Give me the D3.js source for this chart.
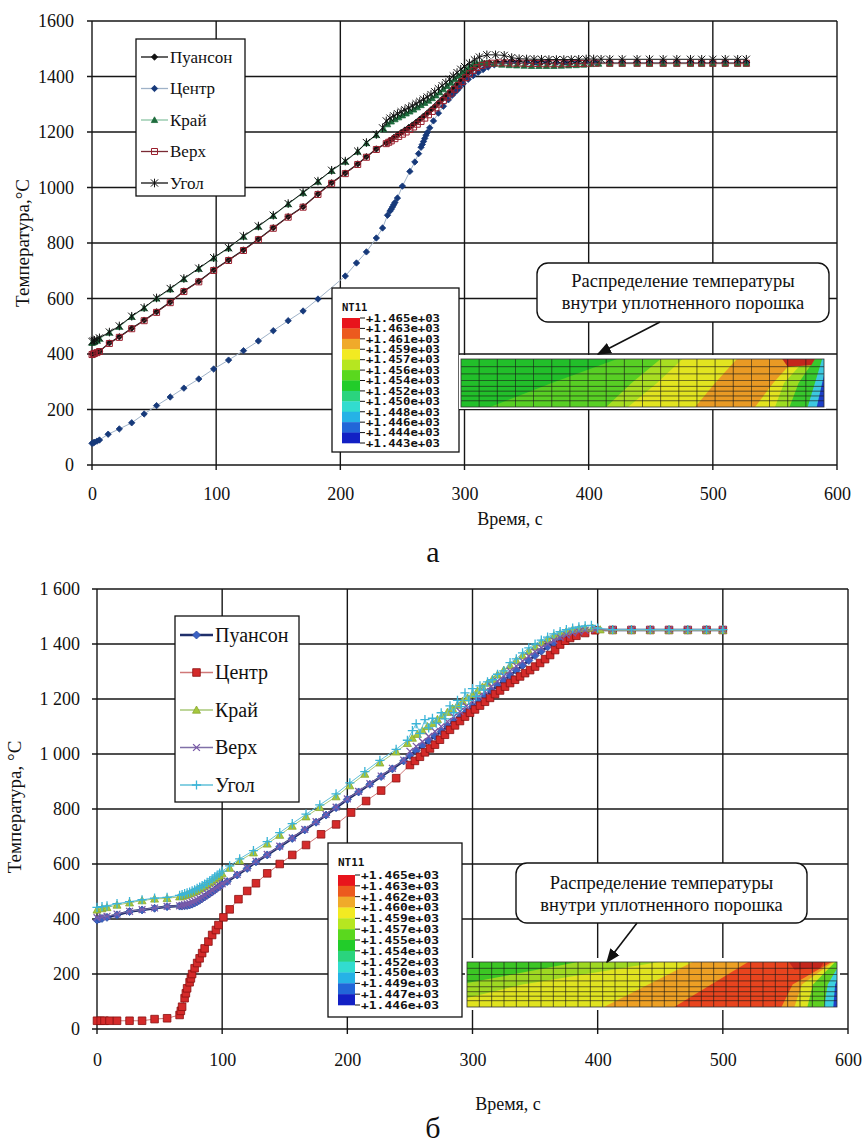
<!DOCTYPE html>
<html>
<head>
<meta charset="utf-8">
<script src="https://cdn.jsdelivr.net/npm/d3@7"></script>
<style>
  body { margin: 0; background: #fff; }
  svg { display: block; }
  text { font-family: "Liberation Serif", "Times New Roman", Times, "DejaVu Serif", serif; fill: #111; }
  text.mono { font-family: "DejaVu Sans Mono", "Liberation Mono", monospace; font-weight: bold; }
</style>
</head>
<body>
<svg id="chart" width="866" height="1146"></svg>
<script>
// ---- data ----
const seriesNames = ["Пуансон", "Центр", "Край", "Верх", "Угол"];
const timeTicks = [0, 100, 200, 300, 400, 500, 600];
const tempTicks = [0, 200, 400, 600, 800, 1000, 1200, 1400, 1600];

// chart "а"  [time, temperature]
const aPunch = [[0,400],[1,401],[2,403],[4,406],[6,410],[14,440],[22,462],[32,493],[42,522],[52,552],[63,587],[74,627],[86,662],[98,703],[110,739],[122,775],[134,814],[146,855],[158,895],[170,931],[182,977],[193,1017],[204,1052],[214,1085],[221,1111],[229,1139],[237,1160],[240,1170],[243,1180],[246,1189],[249,1198],[252,1207],[255,1216],[258,1225],[261,1235],[264,1246],[267,1257],[270,1268],[273,1280],[276,1292],[279,1305],[282,1318],[285,1331],[288,1344],[291,1358],[294,1372],[297,1386],[300,1400],[303,1413],[306,1425],[309,1435],[312,1442],[316,1447],[320,1450],[326,1452],[332,1453],[338,1453],[344,1452],[350,1451],[356,1451],[362,1451],[368,1450],[374,1450],[380,1450],[386,1450],[392,1450],[398,1451],[406,1451],[417,1450],[427,1450],[439,1450],[449,1450],[460,1450],[471,1450],[482,1450],[491,1450],[500,1450],[510,1450],[520,1450],[527,1450]];
const aCenter = [[0,78],[1,80],[2,82],[4,86],[6,90],[13,111],[22,130],[32,152],[42,184],[52,214],[63,245],[74,277],[86,310],[98,346],[110,378],[122,412],[134,447],[146,484],[158,520],[170,555],[182,598],[204,681],[213,728],[221,768],[229,818],[234,854],[238,900],[240,915],[241,922],[242,930],[243,938],[244,946],[246,962],[250,1005],[256,1058],[260,1092],[263,1122],[265,1145],[266,1155],[267,1166],[268,1177],[269,1188],[270,1198],[272,1215],[275,1240],[279,1268],[283,1293],[287,1316],[290,1332],[292,1342],[294,1350],[296,1360],[299,1374],[303,1390],[307,1403],[311,1415],[315,1425],[319,1434],[324,1442],[330,1447],[336,1449],[342,1450],[350,1450],[358,1450],[366,1450],[374,1450],[382,1450],[390,1450],[398,1450],[406,1450],[417,1450],[427,1450],[439,1450],[449,1450],[460,1450],[471,1450],[482,1450],[491,1450],[500,1450],[510,1450],[520,1450],[527,1450]];
const aEdge = [[0,440],[1,442],[2,444],[4,448],[6,455],[14,477],[22,498],[32,534],[42,565],[52,600],[63,633],[74,670],[86,707],[98,745],[110,781],[122,823],[134,859],[146,898],[158,940],[170,980],[182,1021],[193,1060],[204,1093],[214,1129],[221,1160],[229,1189],[235,1210],[238,1228],[241,1238],[244,1246],[247,1253],[250,1260],[253,1267],[256,1274],[259,1281],[262,1289],[265,1297],[268,1305],[271,1313],[274,1322],[277,1332],[280,1343],[283,1354],[286,1366],[289,1378],[292,1390],[295,1402],[298,1414],[301,1425],[304,1435],[307,1443],[310,1448],[314,1450],[318,1449],[324,1446],[330,1443],[336,1441],[342,1440],[348,1439],[354,1438],[360,1438],[366,1438],[372,1438],[378,1439],[384,1440],[390,1441],[396,1443],[402,1445],[408,1446],[417,1446],[427,1446],[439,1446],[449,1446],[460,1446],[471,1446],[482,1446],[491,1446],[500,1446],[510,1446],[520,1446],[527,1446]];
const aTop = [[0,398],[1,400],[2,402],[4,405],[6,409],[14,438],[22,460],[32,491],[42,520],[52,550],[63,585],[74,625],[86,660],[98,701],[110,737],[122,773],[134,812],[146,853],[158,893],[170,929],[182,975],[193,1015],[204,1050],[214,1083],[221,1109],[229,1137],[237,1158],[239,1163],[241,1168],[244,1176],[247,1184],[250,1192],[253,1200],[256,1209],[259,1218],[262,1228],[265,1238],[268,1250],[271,1262],[274,1274],[277,1287],[280,1300],[283,1313],[286,1326],[289,1340],[292,1354],[295,1368],[298,1382],[301,1396],[304,1410],[307,1422],[310,1432],[314,1440],[318,1445],[322,1448],[328,1449],[334,1449],[340,1448],[346,1448],[352,1447],[358,1447],[364,1446],[370,1446],[376,1446],[382,1446],[388,1447],[394,1447],[400,1448],[406,1448],[417,1448],[427,1448],[439,1448],[449,1448],[460,1448],[471,1448],[482,1448],[491,1448],[500,1448],[510,1448],[520,1448],[527,1448]];
const aCorner = [[0,445],[1,447],[2,449],[4,452],[6,458],[14,479],[22,501],[32,536],[42,567],[52,602],[63,636],[74,672],[86,709],[98,747],[110,783],[122,825],[134,861],[146,900],[158,942],[170,982],[182,1023],[193,1062],[204,1095],[214,1131],[221,1162],[229,1191],[234,1215],[237,1240],[240,1250],[243,1258],[246,1266],[249,1273],[252,1280],[255,1287],[258,1294],[261,1302],[264,1310],[267,1318],[270,1326],[273,1335],[276,1345],[279,1356],[282,1367],[285,1378],[288,1390],[291,1402],[294,1414],[297,1426],[300,1436],[304,1448],[308,1460],[312,1470],[318,1478],[325,1478],[332,1476],[338,1468],[344,1464],[350,1463],[356,1462],[362,1462],[368,1461],[374,1461],[380,1461],[386,1461],[392,1462],[398,1463],[404,1463],[410,1462],[417,1462],[427,1462],[439,1462],[449,1462],[460,1462],[471,1462],[482,1462],[491,1462],[500,1462],[510,1462],[520,1462],[527,1462]];

// chart "б"
const bPunch = [[0,396],[2,400],[4,402],[8,406],[16,415],[26,427],[36,433],[46,439],[56,445],[66,447],[68,447],[70,448],[72,449],[74,451],[76,454],[78,458],[80,463],[82,468],[84,474],[86,480],[88,486],[90,492],[92,498],[94,505],[96,512],[98,519],[100,526],[104,536],[112,560],[120,584],[127,608],[136,633],[146,663],[156,693],[166,724],[175,752],[183,778],[191,805],[200,835],[209,862],[218,890],[227,918],[236,946],[245,975],[250,995],[255,1012],[260,1030],[265,1048],[270,1065],[275,1082],[280,1100],[285,1118],[290,1135],[295,1154],[300,1172],[305,1191],[310,1210],[315,1229],[320,1248],[325,1266],[330,1285],[335,1304],[340,1322],[345,1340],[350,1358],[355,1374],[360,1390],[365,1403],[370,1415],[375,1425],[380,1434],[385,1441],[390,1447],[398,1451],[412,1451],[427,1451],[442,1451],[457,1451],[472,1451],[487,1451],[500,1451]];
const bCenter = [[0,30],[3,30],[6,30],[10,30],[16,30],[26,30],[36,30],[46,36],[56,39],[66,51],[67,66],[68,81],[70,112],[71,130],[72,148],[74,170],[75,184],[76,200],[78,221],[80,240],[82,257],[84,276],[86,293],[89,318],[92,342],[95,360],[97,378],[101,406],[106,435],[113,472],[120,502],[127,530],[136,566],[146,600],[156,633],[167,669],[179,708],[191,744],[203,787],[215,829],[227,867],[239,912],[250,960],[254,975],[258,990],[262,1006],[266,1020],[270,1034],[274,1052],[278,1070],[282,1088],[286,1104],[290,1120],[294,1136],[298,1150],[302,1162],[306,1176],[310,1190],[314,1204],[318,1218],[322,1231],[326,1245],[330,1258],[334,1270],[338,1282],[342,1294],[346,1305],[350,1318],[354,1331],[358,1345],[362,1360],[366,1378],[370,1398],[374,1412],[378,1422],[383,1430],[390,1440],[398,1450],[412,1451],[427,1451],[442,1451],[457,1451],[472,1451],[487,1451],[500,1451]];
const bEdge = [[0,433],[4,438],[8,442],[16,451],[26,459],[36,467],[46,473],[56,475],[66,481],[68,483],[70,486],[72,489],[74,492],[76,496],[78,500],[80,505],[82,510],[84,515],[86,520],[88,526],[90,532],[92,538],[94,545],[96,551],[98,558],[100,565],[106,585],[114,612],[125,641],[136,673],[146,705],[156,738],[167,772],[178,806],[191,845],[202,885],[214,927],[226,968],[239,1008],[248,1039],[252,1058],[256,1072],[260,1085],[264,1100],[268,1112],[272,1126],[276,1140],[280,1152],[284,1166],[288,1178],[292,1192],[296,1204],[300,1216],[304,1230],[308,1244],[312,1258],[316,1272],[320,1288],[325,1305],[330,1322],[335,1340],[340,1358],[345,1374],[350,1390],[355,1405],[360,1418],[365,1430],[370,1438],[375,1446],[380,1452],[385,1456],[390,1458],[396,1458],[402,1452],[412,1450],[427,1450],[442,1450],[457,1450],[472,1450],[487,1450],[500,1450]];
const bTop = [[0,405],[4,408],[8,410],[16,418],[26,428],[36,434],[46,440],[56,446],[66,448],[68,450],[70,452],[72,455],[74,458],[76,462],[78,466],[80,470],[82,475],[84,480],[86,486],[88,492],[90,498],[92,504],[94,510],[96,516],[98,522],[100,528],[104,538],[112,562],[120,586],[127,610],[136,635],[146,665],[156,695],[166,726],[175,754],[183,780],[191,807],[200,837],[209,864],[218,892],[227,920],[236,948],[245,978],[250,1010],[255,1028],[260,1045],[265,1064],[270,1082],[275,1100],[280,1118],[285,1136],[290,1155],[295,1174],[300,1192],[305,1210],[310,1228],[315,1246],[320,1265],[325,1284],[330,1302],[335,1320],[340,1338],[345,1356],[350,1372],[355,1387],[360,1400],[365,1413],[370,1424],[375,1433],[380,1440],[385,1446],[390,1450],[398,1452],[412,1452],[427,1452],[442,1452],[457,1452],[472,1452],[487,1452],[500,1452]];
const bCorner = [[0,442],[4,445],[8,448],[16,456],[26,463],[36,470],[46,476],[56,479],[66,486],[68,489],[70,492],[72,495],[74,498],[76,502],[78,506],[80,511],[82,516],[84,521],[86,527],[88,533],[90,539],[92,546],[94,553],[96,560],[98,567],[100,574],[106,593],[114,619],[125,649],[136,681],[146,714],[156,747],[167,781],[178,815],[191,855],[202,895],[214,936],[226,977],[239,1017],[248,1050],[252,1085],[255,1110],[258,1075],[262,1125],[265,1095],[268,1130],[271,1112],[275,1150],[278,1128],[282,1175],[285,1150],[288,1195],[291,1172],[294,1222],[297,1195],[300,1238],[303,1210],[306,1248],[309,1232],[312,1262],[316,1270],[320,1290],[325,1302],[330,1332],[335,1346],[340,1368],[345,1386],[350,1400],[355,1414],[360,1425],[365,1437],[370,1445],[375,1452],[380,1458],[385,1462],[390,1466],[395,1468],[400,1458],[412,1452],[427,1452],[442,1452],[457,1452],[472,1452],[487,1452],[500,1452]];

// NT11 contour legend values and colours
const ntLabelsA = ["+1.465e+03","+1.463e+03","+1.461e+03","+1.459e+03","+1.457e+03","+1.456e+03","+1.454e+03","+1.452e+03","+1.450e+03","+1.448e+03","+1.446e+03","+1.444e+03","+1.443e+03"];
const ntLabelsB = ["+1.465e+03","+1.463e+03","+1.462e+03","+1.460e+03","+1.459e+03","+1.457e+03","+1.455e+03","+1.454e+03","+1.452e+03","+1.450e+03","+1.449e+03","+1.447e+03","+1.446e+03"];
const ntColors = ["#e8141c","#ec5a1e","#f0aa2a","#f2ea22","#b6e620","#5ad81e","#22cc2a","#2ad47e","#32dccf","#26b2e6","#2266d8","#1220c4"];

// contour bands: left edge of each band as [top, middle, bottom] fractions of the strip width
const bandsA = [
  ["#22bf2a", [-1, -1, -1]], ["#58cf24", [0.43, 0.25, 0.08]], ["#a8de22", [0.55, 0.47, 0.40]],
  ["#e2e420", [0.61, 0.54, 0.46]], ["#e99a24", [0.76, 0.70, 0.645]], ["#e2e420", [0.92, 0.86, 0.81]],
  ["#9cdc22", [0.95, 0.89, 0.865]], ["#38c82c", [0.975, 0.93, 0.905]], ["#3cc8e0", [0.995, 0.975, 0.955]],
  ["#1d3fc8", [1.01, 0.995, 0.98]]
];
const hotA = [[0.885,0],[0.975,0],[0.965,0.13],[0.90,0.16]];
const bandsB = [
  ["#3cc624", [-1, -1, -1]], ["#9ed822", [0.30, -0.02, -0.30]], ["#e0e320", [0.52, 0.15, -0.10]],
  ["#eda024", [0.61, 0.49, 0.37]], ["#e8441e", [0.76, 0.66, 0.56]], ["#eda024", [0.985, 0.88, 0.85]],
  ["#e0e320", [0.99, 0.905, 0.885]], ["#5fd022", [0.995, 0.935, 0.92]], ["#3cd0e0", [1.01, 0.975, 0.965]],
  ["#2040c8", [1.02, 0.995, 0.99]]
];
const hotB = [[0.87,0],[0.965,0],[0.955,0.13],[0.885,0.17]];
const meshRowsA = [0.16, 0.31, 0.45, 0.57, 0.67, 0.77, 0.87];
const meshRowsB = [0.14, 0.28, 0.42, 0.55, 0.66, 0.76, 0.86];

const calloutLines = ["Распределение температуры", "внутри уплотненного порошка"];

// ---- drawing ----
const svg = d3.select("#chart");
svg.append("defs").append("marker")
  .attr("id", "arrow").attr("viewBox", "0 0 10 10").attr("refX", 9).attr("refY", 5)
  .attr("markerWidth", 9).attr("markerHeight", 9).attr("orient", "auto-start-reverse")
  .append("path").attr("d", "M0,1 L10,5 L0,9 Z").attr("fill", "#111");

function markerPath(type, r) {
  switch (type) {
    case "diamond": return `M0,${-r}L${r},0L0,${r}L${-r},0Z`;
    case "square": return `M${-r},${-r}H${r}V${r}H${-r}Z`;
    case "triangle": return `M0,${-r}L${r},${r * 0.8}L${-r},${r * 0.8}Z`;
    case "cross": return `M${-r},${-r}L${r},${r}M${-r},${r}L${r},${-r}`;
    case "plus": return `M${-r},0H${r}M0,${-r}V${r}`;
    case "star": return `M${-r},${-r}L${r},${r}M${-r},${r}L${r},${-r}M0,${-r * 1.2}V${r * 1.2}`;
  }
}

function drawMarkers(g, pts, s) {
  const open = s.m === "cross" || s.m === "plus" || s.m === "star";
  g.selectAll(null).data(pts).enter().append("path")
    .attr("transform", d => `translate(${d[0]},${d[1]})`)
    .attr("d", markerPath(s.m, s.r))
    .attr("fill", open ? "none" : s.fill)
    .attr("stroke", s.stroke)
    .attr("stroke-width", s.sw || 0.8);
}

function drawChart(cfg) {
  const x = d3.scaleLinear().domain([0, 600]).range([cfg.left, cfg.right]);
  const y = d3.scaleLinear().domain([0, 1600]).range([cfg.bottom, cfg.top]);
  const g = svg.append("g");

  // grid
  g.selectAll(null).data(tempTicks).enter().append("line")
    .attr("x1", cfg.left - 5).attr("x2", cfg.right).attr("y1", d => y(d)).attr("y2", d => y(d))
    .attr("stroke", "#161616").attr("stroke-width", 1.4);
  g.selectAll(null).data(timeTicks).enter().append("line")
    .attr("y1", cfg.top).attr("y2", cfg.bottom + 5).attr("x1", d => x(d)).attr("x2", d => x(d))
    .attr("stroke", "#161616").attr("stroke-width", 1.4);

  // tick labels through axes
  const yAxis = d3.axisLeft(y).tickValues(tempTicks).tickSize(0).tickPadding(cfg.left - cfg.yLabelRight)
    .tickFormat(cfg.yFormat);
  g.append("g").attr("transform", `translate(${cfg.left},0)`).call(yAxis)
    .attr("font-family", null)
    .call(a => a.select(".domain").remove())
    .selectAll("text").attr("font-size", cfg.tickFont).attr("fill", "#111");
  const xAxis = d3.axisBottom(x).tickValues(timeTicks).tickSize(0).tickPadding(cfg.xLabelPad);
  g.append("g").attr("transform", `translate(0,${cfg.bottom})`).call(xAxis)
    .attr("font-family", null)
    .call(a => a.select(".domain").remove())
    .selectAll("text").attr("font-size", cfg.tickFont).attr("fill", "#111");

  // axis titles
  g.append("text").attr("transform", `translate(${cfg.yTitleX},${cfg.yTitleY}) rotate(-90)`)
    .attr("text-anchor", "middle").attr("font-size", cfg.yTitleFont).text(cfg.yTitle);
  g.append("text").attr("x", cfg.xTitleX).attr("y", cfg.xTitleY)
    .attr("text-anchor", "middle").attr("font-size", cfg.titleFont).text("Время, с");
  g.append("text").attr("x", cfg.capX).attr("y", cfg.capY)
    .attr("text-anchor", "middle").attr("font-size", 30).text(cfg.caption);

  // series
  const line = d3.line().x(d => x(d[0])).y(d => y(d[1]));
  cfg.series.forEach(s => {
    g.append("path").datum(s.data).attr("d", line)
      .attr("fill", "none").attr("stroke", s.line).attr("stroke-width", s.lw);
    drawMarkers(g.append("g"), s.data.map(d => [x(d[0]), y(d[1])]), s);
  });

  // series legend
  const lg = cfg.legend;
  g.append("rect").attr("x", lg.x).attr("y", lg.y).attr("width", lg.w).attr("height", lg.h)
    .attr("fill", "#fff").attr("stroke", "#111").attr("stroke-width", 1.3);
  cfg.series.forEach((s, i) => {
    const yy = lg.y + lg.first + i * lg.step;
    g.append("line").attr("x1", lg.x + 5).attr("x2", lg.x + 5 + lg.sample).attr("y1", yy).attr("y2", yy)
      .attr("stroke", s.legendLine || s.line).attr("stroke-width", Math.max(s.lw, 1.3));
    drawMarkers(g.append("g"), [[lg.x + 5 + lg.sample / 2, yy]], s);
    g.append("text").attr("x", lg.x + 7 + lg.sample).attr("y", yy).attr("dy", "0.34em")
      .attr("font-size", lg.font).text(seriesNames[i]);
  });

  // NT11 colour legend
  const nt = cfg.nt;
  g.append("rect").attr("x", nt.x).attr("y", nt.y).attr("width", nt.w).attr("height", nt.h)
    .attr("fill", "#fff").attr("stroke", "#111").attr("stroke-width", 1.3);
  g.append("text").attr("class", "mono").attr("x", nt.barX).attr("y", nt.titleY)
    .attr("font-size", nt.font).text("NT11");
  const ny = d3.scaleLinear().domain([0, nt.labels.length - 1]).range([nt.barTop, nt.barBottom]);
  g.selectAll(null).data(ntColors).enter().append("rect")
    .attr("x", nt.barX).attr("width", nt.barW)
    .attr("y", (d, i) => ny(i)).attr("height", (d, i) => ny(i + 1) - ny(i) + 0.3)
    .attr("fill", d => d);
  g.selectAll(null).data(nt.labels).enter().append("line")
    .attr("x1", nt.barX + nt.barW).attr("x2", nt.barX + nt.barW + 5)
    .attr("y1", (d, i) => ny(i)).attr("y2", (d, i) => ny(i)).attr("stroke", "#111");
  g.selectAll(null).data(nt.labels).enter().append("text").attr("class", "mono")
    .attr("x", nt.barX + nt.barW + 6).attr("y", (d, i) => ny(i)).attr("dy", "0.36em")
    .attr("font-size", nt.font).attr("textLength", nt.labelW).attr("lengthAdjust", "spacingAndGlyphs")
    .text(d => d);

  // contour strip
  const c = cfg.contour;
  g.append("rect").attr("x", c.padX0).attr("y", c.padY0).attr("width", c.padX1 - c.padX0)
    .attr("height", c.padY1 - c.padY0).attr("fill", "#fff");
  const cx = d3.scaleLinear().domain([0, 1]).range([c.x0, c.x1]);
  const cy = d3.scaleLinear().domain([0, 1]).range([c.y0, c.y1]);
  const clipId = "clip" + cfg.caption;
  g.append("clipPath").attr("id", clipId).append("rect")
    .attr("x", c.x0).attr("y", c.y0).attr("width", c.x1 - c.x0).attr("height", c.y1 - c.y0);
  const cg = g.append("g").attr("clip-path", `url(#${clipId})`);
  const poly = d3.line().x(p => cx(p[0])).y(p => cy(p[1]));
  c.bands.forEach(([col, e]) => {
    cg.append("path").attr("fill", col)
      .attr("d", poly([[e[0], 0], [e[1], 0.5], [e[2], 1], [1.2, 1], [1.2, 0]]) + "Z");
  });
  cg.append("path").attr("fill", "#c4261c").attr("d", poly(c.hot) + "Z");
  // mesh
  d3.range(1, c.cols).forEach(k => {
    cg.append("line").attr("x1", cx(k / c.cols)).attr("x2", cx(k / c.cols))
      .attr("y1", c.y0).attr("y2", c.y1).attr("stroke", "#1b1b1b").attr("stroke-width", 0.8).attr("opacity", 0.8);
  });
  c.rows.forEach(r => {
    cg.append("line").attr("x1", c.x0).attr("x2", c.x1).attr("y1", cy(r)).attr("y2", cy(r))
      .attr("stroke", "#1b1b1b").attr("stroke-width", 0.8).attr("opacity", 0.8);
  });
  g.append("rect").attr("x", c.x0).attr("y", c.y0).attr("width", c.x1 - c.x0).attr("height", c.y1 - c.y0)
    .attr("fill", "none").attr("stroke", "#333").attr("stroke-width", 0.8);

  // callout
  const co = cfg.callout;
  g.append("rect").attr("x", co.x).attr("y", co.y).attr("width", co.w).attr("height", co.h)
    .attr("rx", 11).attr("fill", "#fff").attr("stroke", "#111").attr("stroke-width", 1.4);
  calloutLines.forEach((t, i) => {
    g.append("text").attr("x", co.x + co.w / 2).attr("y", co.base[i])
      .attr("text-anchor", "middle").attr("font-size", co.font).text(t);
  });
  g.append("line").attr("x1", co.arrow[0]).attr("y1", co.arrow[1]).attr("x2", co.arrow[2]).attr("y2", co.arrow[3])
    .attr("stroke", "#111").attr("stroke-width", 1.6).attr("marker-end", "url(#arrow)");
}

const spaced = v => v >= 1000 ? `${Math.floor(v / 1000)} ${String(v % 1000).padStart(3, "0")}` : String(v);

drawChart({
  caption: "а", left: 92, right: 837, top: 21, bottom: 465,
  yLabelRight: 74, xLabelPad: 22, tickFont: 18, titleFont: 18, yTitleFont: 19, yFormat: d3.format("d"),
  yTitle: "Температура,°C", yTitleX: 29, yTitleY: 243, xTitleX: 510, xTitleY: 525, capX: 433, capY: 562,
  series: [
    { data: aPunch, line: "#111", lw: 1.2, m: "diamond", r: 3.2, fill: "#111", stroke: "#111" },
    { data: aCenter, line: "#9fb2c8", lw: 1, m: "diamond", r: 3.2, fill: "#16397a", stroke: "#16397a" },
    { data: aEdge, line: "#8cc4a4", lw: 1, m: "triangle", r: 3.2, fill: "#1d6b3c", stroke: "#1d6b3c" },
    { data: aTop, line: "#7a2a34", lw: 1, m: "square", r: 3, fill: "none", stroke: "#9a1e2c", sw: 1 },
    { data: aCorner, line: "#111", lw: 1, m: "star", r: 3.6, stroke: "#111", sw: 1 }
  ],
  legend: { x: 136, y: 39, w: 109, h: 157, first: 18, step: 31.5, sample: 27, font: 17 },
  nt: { x: 332, y: 288, w: 127, h: 164, barX: 342, barW: 18, titleY: 311, barTop: 318, barBottom: 443,
        labels: ntLabelsA, font: 10.5, labelW: 74 },
  contour: { x0: 461, x1: 824, y0: 359, y1: 407, padX0: 459, padX1: 826, padY0: 355, padY1: 409,
             bands: bandsA, hot: hotA, cols: 20, rows: meshRowsA },
  callout: { x: 537, y: 263, w: 292, h: 59, base: [287, 309], font: 18.5, arrow: [660, 322, 598, 354] }
});

drawChart({
  caption: "б", left: 97, right: 848, top: 589, bottom: 1029,
  yLabelRight: 80, xLabelPad: 24, tickFont: 18, titleFont: 18, yTitleFont: 19, yFormat: spaced,
  yTitle: "Температура, °C", yTitleX: 21, yTitleY: 807, xTitleX: 508, xTitleY: 1110, capX: 433, capY: 1138,
  series: [
    { data: bPunch, line: "#1f2f6b", lw: 2.6, m: "diamond", r: 4, fill: "#3b62c4", stroke: "#2a4aa0" },
    { data: bCenter, line: "#d07878", lw: 1, m: "square", r: 3.8, fill: "#d42a2a", stroke: "#8a1010" },
    { data: bEdge, line: "#a8c878", lw: 1, m: "triangle", r: 4, fill: "#a6c83c", stroke: "#8aa830" },
    { data: bTop, line: "#8070a8", lw: 1, m: "cross", r: 3.4, stroke: "#7a5aa8", sw: 1.3 },
    { data: bCorner, line: "#60c0d8", lw: 1, m: "plus", r: 4.6, stroke: "#3ab4d8", sw: 1.3 }
  ],
  legend: { x: 175, y: 616, w: 124, h: 186, first: 19, step: 37.5, sample: 33, font: 20 },
  nt: { x: 328, y: 843, w: 134, h: 174, barX: 338, barW: 17, titleY: 866, barTop: 875, barBottom: 1005,
        labels: ntLabelsB, font: 11, labelW: 78 },
  contour: { x0: 467, x1: 837, y0: 962, y1: 1007, padX0: 465, padX1: 840, padY0: 958, padY1: 1010,
             bands: bandsB, hot: hotB, cols: 30, rows: meshRowsB },
  callout: { x: 516, y: 863, w: 291, h: 60, base: [889, 911], font: 18.5, arrow: [637, 923, 607, 962] }
});
</script>
</body>
</html>
